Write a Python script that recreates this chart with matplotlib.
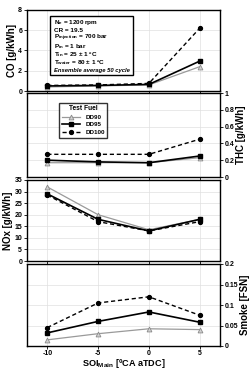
import matplotlib.pyplot as plt

soi = [-10, -5, 0, 5]

co_dd90 = [0.4, 0.5, 0.6, 2.4]
co_dd95 = [0.5, 0.55, 0.65, 2.95]
co_dd100 = [0.55, 0.6, 0.75, 6.2]

thc_dd90 = [0.17, 0.17, 0.17, 0.23]
thc_dd95 = [0.20, 0.18, 0.17, 0.25]
thc_dd100 = [0.27, 0.27, 0.27, 0.45]

nox_dd90 = [32, 20, 13.5, 18]
nox_dd95 = [29, 18, 13, 18]
nox_dd100 = [28.5, 17, 13, 17]

smoke_dd90 = [0.015, 0.03, 0.042, 0.04]
smoke_dd95 = [0.032, 0.06, 0.083, 0.058]
smoke_dd100 = [0.045, 0.105, 0.12, 0.075]

fuels = ["DD90", "DD95", "DD100"]

plt.rcParams['font.family'] = ['Liberation Sans', 'DejaVu Sans']
plt.rcParams['font.weight'] = 'bold'
plt.rcParams['mathtext.fontset'] = 'custom'
plt.rcParams['mathtext.rm'] = 'Liberation Sans:bold'
plt.rcParams['mathtext.it'] = 'Liberation Sans:bold'
plt.rcParams['mathtext.bf'] = 'Liberation Sans:bold'

fig = plt.figure(figsize=(2.53, 3.71), dpi=100)
W, H = 253.0, 371.0
left = 27 / W
width = (220 - 27) / W

def make_ax(top, bottom):
    return fig.add_axes([left, 1 - bottom / H, width, (bottom - top) / H])

axes = [make_ax(10, 91), make_ax(93, 177), make_ax(180, 261), make_ax(264, 346)]

styles = [
    dict(color='#9a9a9a', lw=0.9, ls='-', marker='^', ms=3.5, mfc='#d0d0d0', mec='#8a8a8a', mew=0.6),
    dict(color='black', lw=1.2, ls='-', marker='s', ms=3.2, mfc='black', mec='black'),
    dict(color='black', lw=1.0, ls=(0, (3, 2)), marker='o', ms=2.8, mfc='black', mec='black'),
]

datasets = [
    (co_dd90, co_dd95, co_dd100),
    (thc_dd90, thc_dd95, thc_dd100),
    (nox_dd90, nox_dd95, nox_dd100),
    (smoke_dd90, smoke_dd95, smoke_dd100),
]
ylabels = ["CO [g/kWh]", "THC [g/kWh]", "NOx [g/kWh]", "Smoke [FSN]"]
ylims = [(0, 8), (0, 1), (0, 35), (0, 0.2)]
yticks = [[0, 2, 4, 6, 8], [0, 0.2, 0.4, 0.6, 0.8, 1],
          [0, 5, 10, 15, 20, 25, 30, 35], [0, 0.05, 0.1, 0.15, 0.2]]
ytlabels = [["0", "2", "4", "6", "8"], ["0", "0.2", "0.4", "0.6", "0.8", "1"],
            ["0", "5", "10", "15", "20", "25", "30", "35"],
            ["0", "0.05", "0.1", "0.15", "0.2"]]

for i, ax in enumerate(axes):
    for j, vals in enumerate(datasets[i]):
        ax.plot(soi, vals, label=fuels[j], **styles[j])
    ax.set_xlim(-12, 7)
    ax.set_ylim(*ylims[i])
    ax.set_yticks(yticks[i])
    ax.set_yticklabels(ytlabels[i])
    ax.set_xticks(soi)
    ax.grid(True, color='#e0e0e0', lw=0.5)
    ax.set_axisbelow(True)
    ax.tick_params(labelsize=5, length=2, width=0.6, pad=1.5)
    for s in ax.spines.values():
        s.set_linewidth(1.0)
    ax.set_ylabel(ylabels[i], fontsize=7, fontweight='bold', labelpad=1)
    if i % 2 == 1:
        ax.yaxis.tick_right()
        ax.yaxis.set_label_position('right')
    if i < 3:
        ax.set_xticklabels([])
    else:
        ax.set_xticklabels(["-10", "-5", "0", "5"])
        ax.tick_params(axis='x', pad=1)
        ax.set_xlabel("SOI$_{\\mathbf{Main}}$ [\u00baCA aTDC]", fontsize=6.6, fontweight='bold')
        ax.xaxis.set_label_coords(0.5, -0.215)
        ax.xaxis.label.set_va('center')

# condition box on CO panel
cond = ["N$_e$ = 1200 rpm", "CR = 19.5", "P$_{injection}$ = 700 bar", "P$_{in}$ = 1 bar",
        "T$_{in}$ = 25 \u00b1 1 \u00baC", "T$_{water}$ = 80 \u00b1 1 \u00baC"]
for k, line in enumerate(cond):
    axes[0].text(0.14, 0.85 - k * 0.1, line, transform=axes[0].transAxes, fontsize=4.6,
                 va='center', ha='left', zorder=5)
axes[0].text(0.14, 0.85 - 6 * 0.1, "Ensemble average 50 cycle", transform=axes[0].transAxes,
             fontsize=4.2, style='italic', va='center', ha='left', zorder=5)
box = plt.Rectangle((0.12, 0.2), 0.43, 0.73, transform=axes[0].transAxes, fill=True,
                    facecolor='white', edgecolor='black', lw=1.0, zorder=4)
axes[0].add_patch(box)

leg = axes[1].legend(title="Test Fuel", loc='upper left', bbox_to_anchor=(0.15, 0.92),
                     fontsize=4.5, title_fontsize=4.8, frameon=True, fancybox=False,
                     edgecolor='black', handlelength=3, borderpad=0.4, labelspacing=0.35)
leg.get_frame().set_linewidth(1.0)
leg.get_title().set_fontweight('bold')

fig.savefig("out.png", dpi=100)
